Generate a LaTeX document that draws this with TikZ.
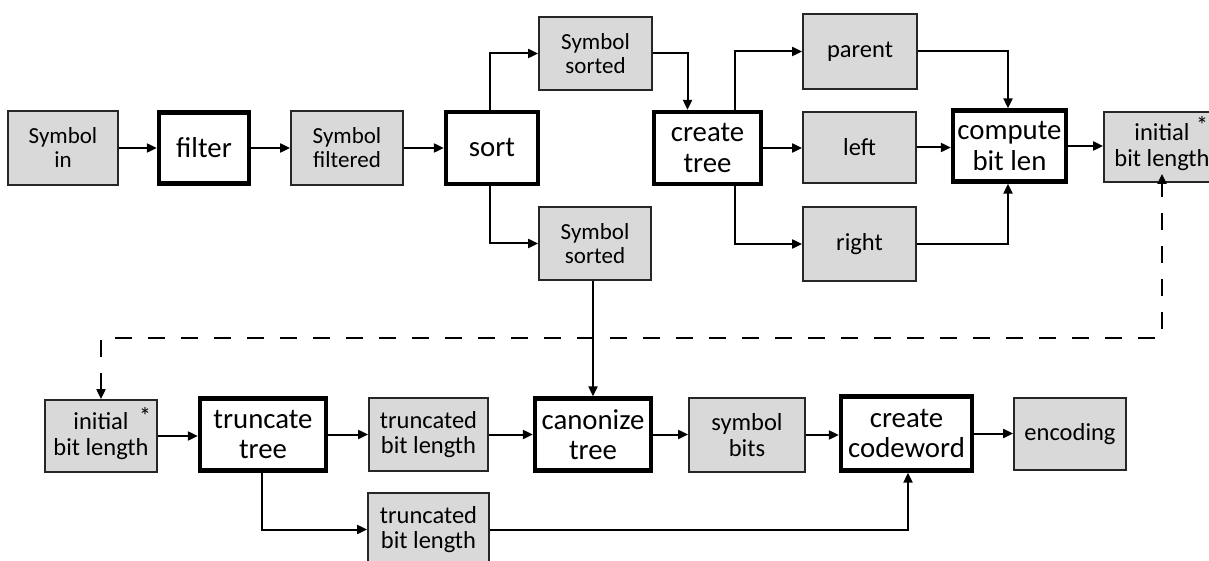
\documentclass[tikz,border=0pt]{standalone}
\usepackage{fontspec}
\setmainfont{Carlito}
\usetikzlibrary{arrows.meta}
\definecolor{boxgray}{HTML}{D9D9D9}
\begin{document}
\begin{tikzpicture}[x=1pt,y=-1pt,
  data/.style={draw=black!85, line width=1.8pt, fill=boxgray, inner sep=0pt, align=center,
    font=\fontsize{24.5}{25.5}\selectfont},
  sym/.style={data, font=\fontsize{23}{24}\selectfont},
  proc/.style={draw=black, line width=4.3pt, fill=white, inner sep=0pt, align=center,
    font=\fontsize{28.8}{30.5}\selectfont},
  conn/.style={line width=2pt, -{Triangle[length=10pt,width=9pt]}},
  dashconn/.style={line width=2pt, dash pattern=on 17pt off 16pt,
    {Triangle[length=10pt,width=9pt]}-{Triangle[length=10pt,width=9pt]}},
  star/.style={inner sep=0pt, font=\fontsize{24}{24}\selectfont}]
\useasboundingbox[fill=white] (0,0) rectangle (1209,561);

% top row
\node[sym, minimum width=110pt, minimum height=74pt] (symin) at (63,148) {Symbol\\in};
\node[proc, minimum width=90pt, minimum height=71pt] (filter) at (204,148) {filter};
\node[sym, minimum width=112pt, minimum height=74pt] (symfilt) at (347,148) {Symbol\\filtered};
\node[proc, minimum width=92pt, minimum height=72pt] (sort) at (492,148) {sort};
\node[sym, minimum width=113pt, minimum height=73pt] (ssort1) at (595.5,53.5) {Symbol\\sorted};
\node[sym, minimum width=112pt, minimum height=73pt] (ssort2) at (595,243.5) {Symbol\\sorted};
\node[proc, minimum width=107pt, minimum height=72pt] (ctree) at (707.5,148) {create\\tree};
\node[data, minimum width=114pt, minimum height=75pt] (parent) at (860,51.5) {parent};
\node[data, minimum width=113pt, minimum height=71pt] (left) at (859.5,147.5) {left};
\node[data, minimum width=113pt, minimum height=74pt] (right) at (859.5,244) {right};
\node[proc, minimum width=113pt, minimum height=71pt] (compute) at (1009.5,146) {compute\\bit len};
\node[data, minimum width=116pt, minimum height=70pt] (init1) at (1162,147) {initial\\bit length};
\node[star] (star1) at (1202,125) {*};

% bottom row
\node[data, minimum width=112pt, minimum height=72pt] (init2) at (101,436) {initial\\bit length};
\node[star] (star2) at (145,416) {*};
\node[proc, minimum width=126pt, minimum height=72pt] (ttree) at (263,434.5) {truncate\\tree};
\node[data, minimum width=119pt, minimum height=73pt] (trunc1) at (428.5,434.5) {truncated\\bit length};
\node[data, minimum width=121pt, minimum height=73pt] (trunc2) at (428.5,529.5) {truncated\\bit length};
\node[proc, minimum width=116pt, minimum height=72pt] (canon) at (593,434.5) {canonize\\tree};
\node[data, minimum width=116pt, minimum height=74pt] (symbits) at (747,435) {symbol\\bits};
\node[proc, minimum width=131pt, minimum height=74pt] (codeword) at (906.5,433.5) {create\\codeword};
\node[data, minimum width=112pt, minimum height=72pt] (encoding) at (1070,434) {\raisebox{-2pt}{encoding}};

\coordinate (dR) at (1162,338);

% connectors top
\draw[conn] (symin.east) -- (filter.west |- symin.east);
\draw[conn] (filter.east) -- (symfilt.west |- filter.east);
\draw[conn] (symfilt.east) -- (sort.west |- symfilt.east);
\draw[conn] ([xshift=-2pt]sort.north) |- (ssort1.west);
\draw[conn] ([xshift=-2pt]sort.south) |- (ssort2.west);
\draw[conn] (ssort1.east) -| ([xshift=-20pt]ctree.north);
\draw[conn] ([xshift=27pt]ctree.north) |- (parent.west);
\draw[conn] (ctree.east) -- (left.west |- ctree.east);
\draw[conn] ([xshift=27pt]ctree.south) |- (right.west);
\draw[conn] (parent.east) -| ([xshift=-1.5pt]compute.north);
\draw[conn] (left.east) -- (compute.west |- left.east);
\draw[conn] (right.east) -| ([xshift=-1.5pt]compute.south);
\draw[conn] (compute.east) -- (init1.west |- compute.east);

% dashed feedback
\draw[dashconn] (init2.north) |- (dR) -- ([yshift=9pt]init1.south);

% bottom connectors
\draw[conn] (ssort2.south -| canon.north) -- (canon.north);
\draw[conn] (init2.east) -- (ttree.west |- init2.east);
\draw[conn] (ttree.east) -- (trunc1.west |- ttree.east);
\draw[conn] (trunc1.east) -- (canon.west |- trunc1.east);
\draw[conn] (canon.east) -- (symbits.west |- canon.east);
\draw[conn] (symbits.east) -- (codeword.west |- symbits.east);
\draw[conn] (codeword.east) -- (encoding.west |- codeword.east);
\draw[conn] ([xshift=-1pt]ttree.south) |- (trunc2.west);
\draw[conn] (trunc2.east) -| ([xshift=1.5pt]codeword.south);
\end{tikzpicture}
\end{document}
